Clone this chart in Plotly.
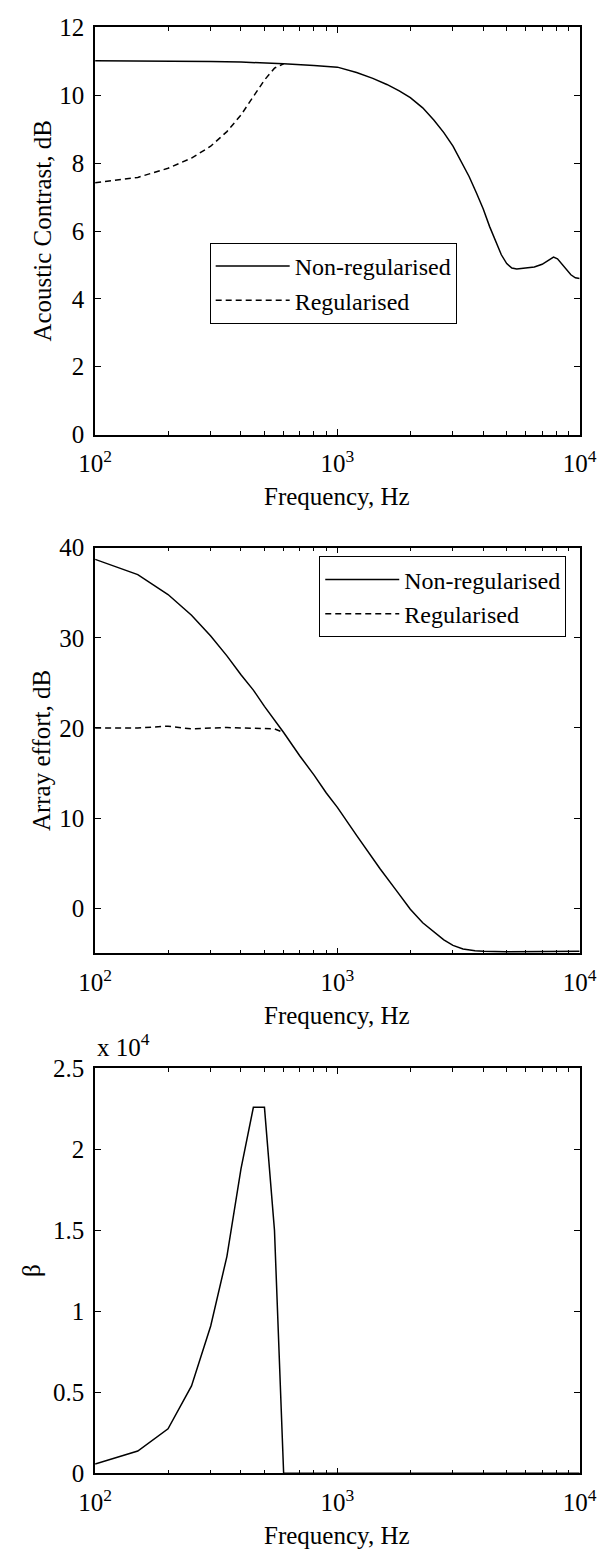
import plotly.graph_objects as go

# ---------------- data ----------------
freq_contrast = [100, 150, 200, 300, 400, 500, 600, 800, 1000, 1200, 1400, 1600, 1800,
                 2000, 2250, 2500, 2750, 3000, 3250, 3500, 3750, 4000, 4250, 4500,
                 4750, 5000, 5250, 5500, 6000, 6500, 7000, 7500, 7800, 8100, 8400,
                 8800, 9200, 9600, 10000]
contrast_nonreg = [11.02, 11.02, 11.01, 11.0, 10.98, 10.96, 10.93, 10.88, 10.83, 10.67,
                   10.50, 10.32, 10.13, 9.93, 9.63, 9.27, 8.90, 8.50, 8.05, 7.60, 7.12,
                   6.65, 6.13, 5.68, 5.30, 5.04, 4.91, 4.88, 4.90, 4.94, 5.02, 5.17,
                   5.23, 5.18, 5.05, 4.86, 4.71, 4.62, 4.60]
freq_contrast_reg = [100, 150, 200, 250, 300, 350, 400, 450, 500, 550, 600]
contrast_reg = [7.42, 7.58, 7.85, 8.15, 8.50, 8.93, 9.42, 9.95, 10.45, 10.80, 10.93]

freq_effort = [100, 150, 200, 250, 300, 350, 400, 450, 500, 550, 600, 700, 800, 900,
               1000, 1200, 1500, 1750, 2000, 2250, 2500, 2750, 3000, 3300, 3700, 4000,
               5000, 6000, 8000, 10000]
effort_nonreg = [38.7, 37.0, 34.8, 32.5, 30.2, 28.0, 25.9, 24.2, 22.4, 20.9, 19.5, 16.9,
                 14.8, 12.8, 11.2, 8.1, 4.4, 2.0, -0.1, -1.6, -2.6, -3.5, -4.1, -4.5,
                 -4.7, -4.75, -4.8, -4.8, -4.8, -4.75]
freq_effort_reg = [100, 150, 200, 250, 300, 350, 400, 450, 500, 550, 600]
effort_reg = [20.0, 20.0, 20.2, 19.9, 20.0, 20.05, 20.0, 20.0, 19.95, 19.9, 19.5]

freq_beta = [100, 150, 200, 250, 300, 350, 400, 450, 500, 550, 600, 10000]
beta = [580, 1380, 2750, 5400, 9100, 13400, 18800, 22600, 22600, 15000, 0, 0]

x_tickvals = [100, 1000, 10000]
x_ticktext = ["10<sup>2</sup>", "10<sup>3</sup>", "10<sup>4</sup>"]
x_minor = [200, 300, 400, 500, 600, 700, 800, 900,
           2000, 3000, 4000, 5000, 6000, 7000, 8000, 9000]
beta_tickvals = [0, 5000, 10000, 15000, 20000, 25000]
beta_ticktext = ["0", "0.5", "1", "1.5", "2", "2.5"]

# ---------------- layout helpers ----------------
W, H = 613, 1564
FONT = "Liberation Serif, Times New Roman, serif"
FS = 25
X0, X1 = 82.7, 595.7
panels = [(14.7, 429.0), (544.0, 957.0), (1074.0, 1486.0)]


def ydom(top, bottom):
    return [1 - bottom / H, 1 - top / H]


xdom = [X0 / W, X1 / W]

line_style = dict(color="black", width=1.5)
dash_style = dict(color="black", width=1.5, dash="6px,4px")

fig = go.Figure()
fig.add_trace(go.Scatter(x=freq_contrast, y=contrast_nonreg, mode="lines", line=line_style,
                         name="Non-regularised", xaxis="x", yaxis="y", legend="legend"))
fig.add_trace(go.Scatter(x=freq_contrast_reg, y=contrast_reg, mode="lines", line=dash_style,
                         name="Regularised", xaxis="x", yaxis="y", legend="legend"))
fig.add_trace(go.Scatter(x=freq_effort, y=effort_nonreg, mode="lines", line=line_style,
                         name="Non-regularised", xaxis="x2", yaxis="y2", legend="legend2"))
fig.add_trace(go.Scatter(x=freq_effort_reg, y=effort_reg, mode="lines", line=dash_style,
                         name="Regularised", xaxis="x2", yaxis="y2", legend="legend2"))
fig.add_trace(go.Scatter(x=freq_beta, y=beta, mode="lines", line=line_style,
                         name="β", xaxis="x3", yaxis="y3", showlegend=False))

tickfont = dict(family=FONT, size=FS, color="black")


def xaxis(anchor):
    return dict(type="log", range=[2, 4], domain=xdom, anchor=anchor,
                tickvals=x_tickvals, ticktext=x_ticktext, ticks="inside",
                ticklen=6, tickwidth=1.2, tickcolor="black",
                showline=True, linecolor="black", linewidth=1.5, mirror="ticks",
                showgrid=False, zeroline=False, tickfont=tickfont,
                ticklabelstandoff=6,
                minor=dict(tickvals=x_minor, ticks="inside", ticklen=4,
                           tickwidth=1.2, tickcolor="black", showgrid=False))


def yaxis(anchor, dom, rng, **kw):
    d = dict(range=rng, domain=dom, anchor=anchor, ticks="inside", ticklen=6,
             tickwidth=1.2, tickcolor="black", showline=True, linecolor="black",
             linewidth=1.5, mirror="ticks", showgrid=False, zeroline=False,
             tickfont=tickfont, ticklabelstandoff=4)
    d.update(kw)
    return d


legend_common = dict(xanchor="left", yanchor="top", bordercolor="black", borderwidth=1,
                     bgcolor="white", font=dict(family=FONT, size=24, color="black"),
                     itemwidth=74, tracegroupgap=0)

fig.update_layout(
    width=W, height=H, margin=dict(l=0, r=0, t=0, b=0),
    paper_bgcolor="white", plot_bgcolor="white",
    xaxis=xaxis("y"), xaxis2=xaxis("y2"), xaxis3=xaxis("y3"),
    yaxis=yaxis("x", ydom(*panels[0]), [0, 12], tickvals=[0, 2, 4, 6, 8, 10, 12]),
    yaxis2=yaxis("x2", ydom(*panels[1]), [-5, 40], tickvals=[0, 10, 20, 30, 40]),
    yaxis3=yaxis("x3", ydom(*panels[2]), [0, 25000], tickvals=beta_tickvals,
                 ticktext=beta_ticktext),
    legend=dict(x=204 / W, y=1 - 234 / H, **legend_common),
    legend2=dict(x=320 / W, y=1 - 553 / H, **legend_common),
    showlegend=True,
)

titles_y = [("Acoustic Contrast, dB", 26), ("Array effort, dB", 26), ("β", 16)]
annotations = []
for (top, bottom), (txt, xc) in zip(panels, titles_y):
    annotations.append(dict(text=txt, x=xc / W, y=1 - (top + bottom) / 2 / H,
                            xref="paper", yref="paper", showarrow=False, textangle=-90,
                            xanchor="center", yanchor="middle",
                            font=dict(family=FONT, size=FS, color="black")))
    annotations.append(dict(text="Frequency, Hz", x=(X0 + X1) / 2 / W,
                            y=1 - (bottom + 63) / H, xref="paper", yref="paper",
                            showarrow=False, xanchor="center", yanchor="middle",
                            font=dict(family=FONT, size=FS, color="black")))
annotations.append(dict(text="x 10<sup>4</sup>", x=X0 / W, y=1 - 1068 / H,
                        xref="paper", yref="paper", showarrow=False,
                        xanchor="left", yanchor="bottom",
                        font=dict(family=FONT, size=FS, color="black")))
fig.update_layout(annotations=annotations)

fig.write_html("out.html")
